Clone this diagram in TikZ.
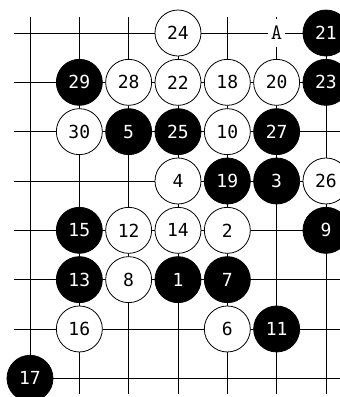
\documentclass[tikz,border=0pt]{standalone}
\usepackage{fontspec}
\usepackage{tikz}
\newfontfamily\stonefont{DejaVu Sans Mono}
\newfontfamily\markfont{Latin Modern Mono}
\tikzset{
  blackstone/.style={
    circle,draw=black,fill=black,line width=0.8pt,
    minimum size=46pt,inner sep=0pt,
    font=\stonefont\fontsize{18}{18}\selectfont,text=white
  },
  whitestone/.style={
    circle,draw=black,fill=white,line width=0.8pt,
    minimum size=46pt,inner sep=0pt,
    font=\stonefont\fontsize{18}{18}\selectfont,text=black
  },
  boardline/.style={line width=0.8pt,draw=black},
  pointmark/.style={
    fill=white,inner xsep=3pt,inner ysep=7pt,
    font=\markfont\fontsize{22}{22}\selectfont
  }
}

\begin{document}
\begin{tikzpicture}[x=49.33pt,y=-49.33pt]
  \useasboundingbox (-30pt,33pt) rectangle (310pt,-364pt);
  \clip (-30pt,33pt) rectangle (310pt,-364pt);
  % board lines
  \foreach \r in {0,...,7}
    \draw[boardline] ([xshift=-16pt]0,\r) -- ([xshift=16pt]6,\r);
  \foreach \c in {0,...,6}
    \draw[boardline] ([yshift=16pt]\c,0) -- ([yshift=-16pt]\c,7);

  % row 0
  \node[whitestone] (m24) at (3,0) {24};
  \node[pointmark] (markA) at (5,0) {A};
  \node[blackstone] (m21) at (6,0) {21};
  % row 1
  \node[blackstone] (m29) at (1,1) {29};
  \node[whitestone] (m28) at (2,1) {28};
  \node[whitestone] (m22) at (3,1) {22};
  \node[whitestone] (m18) at (4,1) {18};
  \node[whitestone] (m20) at (5,1) {20};
  \node[blackstone] (m23) at (6,1) {23};
  % row 2
  \node[whitestone] (m30) at (1,2) {30};
  \node[blackstone] (m5) at (2,2) {5};
  \node[blackstone] (m25) at (3,2) {25};
  \node[whitestone] (m10) at (4,2) {10};
  \node[blackstone] (m27) at (5,2) {27};
  % row 3
  \node[whitestone] (m4) at (3,3) {4};
  \node[blackstone] (m19) at (4,3) {19};
  \node[blackstone] (m3) at (5,3) {3};
  \node[whitestone] (m26) at (6,3) {26};
  % row 4
  \node[blackstone] (m15) at (1,4) {15};
  \node[whitestone] (m12) at (2,4) {12};
  \node[whitestone] (m14) at (3,4) {14};
  \node[whitestone] (m2) at (4,4) {2};
  \node[blackstone] (m9) at (6,4) {9};
  % row 5
  \node[blackstone] (m13) at (1,5) {13};
  \node[whitestone] (m8) at (2,5) {8};
  \node[blackstone] (m1) at (3,5) {1};
  \node[blackstone] (m7) at (4,5) {7};
  % row 6
  \node[whitestone] (m16) at (1,6) {16};
  \node[whitestone] (m6) at (4,6) {6};
  \node[blackstone] (m11) at (5,6) {11};
  % row 7
  \node[blackstone] (m17) at (0,7) {17};
\end{tikzpicture}
\end{document}
